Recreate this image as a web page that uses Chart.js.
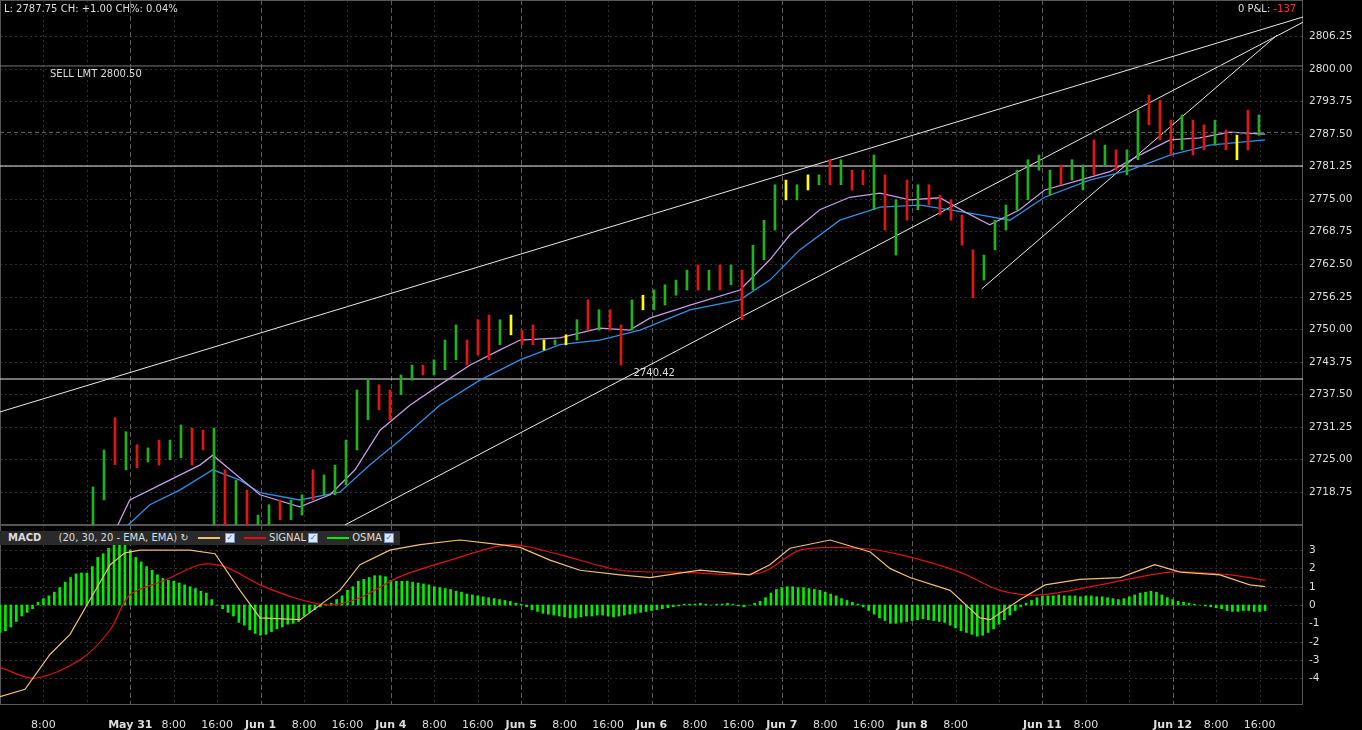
<!DOCTYPE html>
<html>
<head>
<meta charset="utf-8">
<script src="https://cdn.jsdelivr.net/npm/chart.js@4.4.0/dist/chart.umd.min.js"></script>
<style>
  body { margin: 0; background: #000; width: 1362px; height: 730px; overflow: hidden; font-family: "DejaVu Sans", sans-serif; }
  #top { position: absolute; left: 0; top: 0; width: 1362px; height: 525px; }
  #bot { position: absolute; left: 0; top: 525px; width: 1362px; height: 205px; }
  .txt { position: absolute; color: #ddd; font-size: 10px; white-space: nowrap; }
  #legend { position: absolute; left: 0; top: 531px; width: 400px; height: 14px; background: #2a2a2a; color: #ddd; font-size: 10px; line-height: 14px; }
  #legend span { display: inline-block; vertical-align: middle; }
  .sw { width: 22px; height: 2px; margin: 0 3px 0 6px; }
  .cb { width: 8px; height: 8px; background: #dfe8ff; border: 1px solid #6a8fd0; margin-left: 2px; color: #2a5fb0; font-size: 8px; line-height: 8px; text-align: center; }
</style>
</head>
<body>
<div id="top"><canvas id="priceChart" width="1362" height="525"></canvas></div>
<div id="bot"><canvas id="macdChart" width="1362" height="205"></canvas></div>
<div class="txt" style="left:4px;top:3px;">L: 2787.75 CH: +1.00 CH%: 0.04%</div>
<div class="txt" style="left:1238px;top:3px;">0 P&amp;L: <span style="color:#ff3030">-137</span></div>
<div id="legend">
  <span style="font-weight:bold;margin-left:8px;">MACD</span>
  <span style="margin-left:14px;">(20, 30, 20 - EMA, EMA) ↻</span>
  <span class="sw" style="background:#f0c070"></span><span class="cb">✓</span>
  <span class="sw" style="background:#e01010"></span><span>SIGNAL</span><span class="cb">✓</span>
  <span class="sw" style="background:#00ee00"></span><span>OSMA</span><span class="cb">✓</span>
</div>
<script>
// price bars (one every ~2 hours)
const barHigh = [2719.7,2726.8,2733.0,2730.3,2727.8,2727.2,2728.7,2728.7,2731.6,2731.0,2730.6,2731.0,2723.0,2721.0,2719.1,2714.3,2716.3,2717.2,2717.2,2718.2,
  2723.0,2722.0,2723.9,2728.7,2738.3,2740.2,2739.3,2738.3,2741.2,2743.1,2743.1,2744.1,2747.9,2750.8,2747.9,2751.8,2752.7,2751.8,2752.7,2749.8,
  2750.8,2747.9,2747.9,2748.9,2751.8,2755.6,2753.7,2753.7,2750.8,2755.6,2756.5,2757.5,2758.5,2759.4,2761.3,2762.3,2761.3,2762.3,2762.3,2761.3,
  2766.1,2770.9,2777.7,2778.6,2777.7,2779.6,2779.6,2782.5,2782.5,2780.5,2780.5,2783.4,2779.6,2774.8,2778.6,2777.7,2777.7,2775.7,2774.8,2771.9,
  2765.2,2764.2,2770.9,2773.8,2780.5,2782.5,2783.4,2780.5,2781.5,2782.5,2781.5,2786.3,2785.3,2784.4,2784.4,2792.0,2794.9,2793.9,2790.1,2791.1,
  2790.1,2789.2,2790.1,2788.2,2787.2,2792.0,2791.1];
const barLow = [2712.4,2717.2,2724.0,2723.0,2723.4,2724.5,2723.9,2724.9,2725.3,2723.9,2726.8,2712.4,2712.4,2712.4,2712.4,2712.4,2712.4,2713.4,2713.4,2714.3,
  2717.2,2718.2,2718.2,2720.1,2726.8,2732.6,2734.5,2732.6,2737.4,2740.2,2741.2,2741.2,2742.2,2744.1,2743.1,2745.0,2744.1,2747.0,2748.9,2747.0,
  2747.0,2746.0,2747.0,2747.0,2747.9,2749.8,2749.8,2749.8,2743.1,2749.8,2753.7,2753.7,2754.6,2756.5,2757.5,2757.5,2757.5,2757.5,2758.5,2751.8,
  2757.5,2763.3,2769.0,2774.8,2774.8,2776.7,2777.7,2777.7,2777.7,2776.7,2777.7,2772.9,2769.0,2764.2,2770.9,2772.9,2773.8,2771.9,2770.9,2766.1,
  2756.0,2759.4,2765.2,2769.0,2772.9,2774.8,2780.5,2775.7,2777.7,2778.6,2776.7,2779.6,2781.5,2780.5,2779.6,2782.5,2789.2,2786.3,2783.4,2784.4,
  2783.4,2784.4,2785.3,2784.4,2782.5,2784.4,2787.2];
const barDir = 'ggrgrgrggrrgrgrggrggrgggggrrggrgggrrrgyrryg' + 'ygrgrrgyggggrgrgrgggygygrgrrgrgrgrrrrrgggggggrggrgrggrrrgrrgryrg';
// moving averages [hour index, price]
const emaFastIdx = [21.7,23.9,29.5,36.8,39.2,42.4,47.9,55.2,60.8,65.4,70,75.5,81,86.6,92.1,95.8,103.1,110.5,116,119.7,127.1,136.3,141.8,145.5,151,156.5,162.1,167.6,173.1,177.7,182.3,187.8,192.4,198.9,204.4,209.9,215.5,221,226.5,233];
const emaFastVal = [2712.4,2717.2,2720.1,2723.9,2725.8,2723.0,2718.2,2715.9,2718.2,2723.0,2730.6,2735.4,2739.3,2743.1,2746.0,2747.9,2748.3,2750.2,2749.8,2752.1,2754.6,2757.5,2763.3,2768.1,2772.9,2775.3,2776.1,2774.8,2775.2,2772.5,2770.0,2772.9,2776.7,2778.6,2780.2,2783.4,2786.3,2786.7,2787.8,2787.4];
const emaSlowIdx = [23.6,27.6,33.1,39.2,44.2,47.9,55.2,62.6,68.1,73.7,81,88.4,95.8,103.1,110.5,117.9,127.1,136.3,141.8,147.3,154.7,162.1,169.4,175,180.5,186,192.4,200.7,208.1,215.5,222.8,233];
const emaSlowVal = [2712.4,2716.3,2719.1,2723.0,2721.0,2718.6,2717.2,2718.7,2723.9,2728.7,2735.4,2740.2,2744.1,2747.0,2747.9,2749.8,2753.7,2755.6,2759.4,2765.2,2770.9,2773.4,2773.8,2772.9,2771.9,2770.9,2775.3,2778.6,2780.5,2783.4,2785.3,2786.3];
// drawn lines
const trendLines = [[[0, 2734.1], [240, 2809.9]], [[63.5, 2712.4], [240, 2808.9]], [[180.8, 2757.7], [235.2, 2806.4]]];
const levelLines = [2740.42, 2781.3];
const sellLevel = 2800.50;
const lastPrice = 2787.75;
const priceTicks = [2806.25,2800.00,2793.75,2787.50,2781.25,2775.00,2768.75,2762.50,2756.25,2750.00,2743.75,2737.50,2731.25,2725.00,2718.75];
// MACD panel
const osma = [-1.5,-1.4,-1.2,-0.9,-0.6,-0.4,-0.2,0.15,0.35,0.5,0.7,0.95,1.25,1.5,1.7,1.75,1.75,2.1,2.6,2.8,
  3.1,3.3,3.4,3.3,3.0,2.6,2.35,2.1,1.9,1.65,1.45,1.35,1.3,1.2,1.1,1.0,0.9,0.75,0.65,0.3,
  0,-0.2,-0.4,-0.6,-0.95,-1.1,-1.35,-1.55,-1.65,-1.6,-1.45,-1.3,-1.2,-1.05,-1.0,-0.9,-0.6,-0.4,-0.25,-0.1,
  0.05,0.1,0.3,0.5,0.8,1.0,1.3,1.4,1.5,1.6,1.6,1.55,1.35,1.3,1.3,1.3,1.25,1.2,1.15,1.1,
  1.0,0.95,0.9,0.85,0.75,0.7,0.6,0.55,0.5,0.45,0.4,0.35,0.3,0.25,0.2,0.1,0.05,-0.1,-0.25,-0.35,
  -0.45,-0.5,-0.55,-0.6,-0.65,-0.7,-0.7,-0.65,-0.6,-0.6,-0.55,-0.55,-0.6,-0.65,-0.6,-0.55,-0.5,-0.45,-0.4,-0.35,
  -0.3,-0.25,-0.2,-0.15,-0.1,-0.05,0.05,0.05,0.05,0.1,0.05,0,0.05,0.05,0.1,0.05,-0.05,-0.1,0,0.1,
  0.2,0.4,0.65,0.85,0.95,1.0,1.0,0.95,0.95,0.9,0.85,0.8,0.7,0.6,0.5,0.35,0.25,0.15,0.05,-0.1,
  -0.3,-0.5,-0.7,-0.85,-1.0,-1.0,-0.95,-0.9,-0.85,-0.8,-0.75,-0.8,-0.85,-0.9,-0.95,-1.1,-1.25,-1.4,-1.5,-1.6,
  -1.7,-1.65,-1.5,-1.3,-1.05,-0.8,-0.55,-0.3,-0.1,0.1,0.25,0.4,0.5,0.5,0.5,0.55,0.5,0.5,0.5,0.45,
  0.5,0.5,0.45,0.45,0.4,0.35,0.3,0.35,0.45,0.55,0.65,0.7,0.75,0.7,0.55,0.4,0.3,0.2,0.15,0.1,
  0.05,0,-0.05,-0.1,-0.15,-0.2,-0.3,-0.35,-0.35,-0.3,-0.3,-0.35,-0.35,-0.3];
const macdIdx = [0,4.6,9.2,12.9,16.6,20.3,23,25.8,35,39.6,44.2,47.9,55.3,62.6,66.3,71.8,77.4,84.7,92.1,95.8,101.3,106.8,114.2,119.7,128.9,138.1,141.8,145.5,152.9,160.3,163.9,167.6,175,180.5,182.4,187.9,192.5,198.9,206.3,212.7,217.4,224.7,230.2,233];
const macdVal = [-5.0,-4.6,-2.7,-1.6,0.3,2.2,2.85,3.0,3.0,2.8,0.8,-0.7,-0.8,0.8,2.2,3.0,3.3,3.55,3.3,3.15,2.45,1.9,1.65,1.5,1.9,1.65,2.2,3.1,3.55,2.9,2.0,1.5,0.8,-0.7,-0.8,0.3,1.1,1.4,1.5,2.2,1.8,1.65,1.1,1.0];
const signalIdx = [0,6.4,14.7,20.3,23.9,30.4,36.8,41.4,47.9,55.3,60.8,66.3,73.7,82.9,93.9,103.1,114.2,125.3,140,147.4,158.4,165.8,176.8,184.2,191.6,202.6,215.5,226.6,233];
const signalVal = [-3.4,-4.0,-3.0,-1.35,0.55,1.35,2.2,2.1,1.1,0.3,0,0.4,1.55,2.45,3.3,2.75,1.9,1.8,1.75,3.0,3.1,2.75,1.8,0.8,0.55,1.1,1.8,1.65,1.35];
const macdTicks = [3,2,1,0,-1,-2,-3,-4];
const dayLabels = {24:'May 31',48:'Jun 1',72:'Jun 4',96:'Jun 5',120:'Jun 6',144:'Jun 7',168:'Jun 8',192:'Jun 11',216:'Jun 12'};
const hiddenTimeLabels = [16, 184, 208];

const FONT = 'DejaVu Sans';
const pts = (xs, ys) => xs.map((x, i) => ({x: x, y: ys[i]}));
const dirColor = {g: '#1fb21f', r: '#e41414', y: '#ffff00'};

// grid and axis labels drawn through the scales
const gridPlugin = {
  id: 'grid',
  beforeDatasetsDraw(chart, args, opts) {
    const {ctx, chartArea: a, scales: {x, y}} = chart;
    ctx.save();
    ctx.lineWidth = 1;
    ctx.font = '10.5px ' + FONT;
    ctx.textBaseline = 'middle';
    opts.yTicks.forEach(v => {
      const py = Math.round(y.getPixelForValue(v)) + 0.5;
      ctx.strokeStyle = '#2e2e2e'; ctx.setLineDash([2, 3]);
      ctx.beginPath(); ctx.moveTo(a.left, py); ctx.lineTo(a.right, py); ctx.stroke();
      ctx.fillStyle = '#ddd';
      ctx.fillText(opts.fmt(v), a.right + 6, py);
    });
    for (let h = 8; h < 240; h += 8) {
      const px = Math.round(x.getPixelForValue(h)) + 0.5;
      const day = h % 24 === 0;
      ctx.strokeStyle = day ? '#5a5a5a' : '#2e2e2e';
      ctx.setLineDash(day ? [5, 3] : [2, 3]);
      ctx.beginPath(); ctx.moveTo(px, a.top); ctx.lineTo(px, a.bottom); ctx.stroke();
    }
    ctx.setLineDash([]);
    ctx.strokeStyle = '#555';
    ctx.strokeRect(a.left + 0.5, a.top + 0.5, a.right - a.left - 1, a.bottom - a.top - 1);
    ctx.restore();
  },
  afterDatasetsDraw(chart, args, opts) {
    if (!opts.labels) return;
    const {ctx, scales: {x, y}} = chart;
    ctx.save();
    ctx.fillStyle = '#ddd';
    ctx.font = '10px ' + FONT;
    ctx.textAlign = 'center';
    ctx.fillText('2740.42', x.getPixelForValue(120.5), y.getPixelForValue(2740.42) - 3);
    ctx.textAlign = 'left';
    ctx.fillText('SELL LMT 2800.50', 50, y.getPixelForValue(sellLevel) + 11);
    ctx.restore();
  }
};

function yAxis(min, max) {
  return {
    position: 'right', min: min, max: max,
    afterFit: s => { s.width = 59; s.paddingTop = 0; s.paddingBottom = 0; },
    grid: {display: false}, border: {display: false},
    ticks: {display: false}
  };
}

const priceSets = [{
  type: 'bar',
  data: barHigh.map((h, k) => ({x: 17.13 + 2.026 * k, y: [barLow[k], h]})),
  backgroundColor: barHigh.map((h, k) => dirColor[barDir[k]]),
  barThickness: 2, grouped: false, order: 1
}, {
  type: 'line', data: pts(emaFastIdx, emaFastVal), borderColor: '#c79be8', borderWidth: 1.3, pointRadius: 0, order: 2
}, {
  type: 'line', data: pts(emaSlowIdx, emaSlowVal), borderColor: '#2f8fe6', borderWidth: 1.3, pointRadius: 0, order: 2
}];
trendLines.forEach(l => priceSets.push({type: 'line', data: l.map(p => ({x: p[0], y: p[1]})), borderColor: '#e8e8e8', borderWidth: 1, pointRadius: 0, order: 3}));
levelLines.forEach(v => priceSets.push({type: 'line', data: [{x: 0, y: v}, {x: 240, y: v}], borderColor: '#e8e8e8', borderWidth: 1, pointRadius: 0, order: 3}));
priceSets.push({type: 'line', data: [{x: 0, y: sellLevel}, {x: 240, y: sellLevel}], borderColor: '#777', borderWidth: 1, pointRadius: 0});
priceSets.push({type: 'line', data: [{x: 0, y: lastPrice}, {x: 240, y: lastPrice}], borderColor: '#666', borderDash: [4, 3], borderWidth: 1, pointRadius: 0});

new Chart(document.getElementById('priceChart'), {
  type: 'bar',
  data: {datasets: priceSets},
  options: {
    responsive: false, animation: false,
    layout: {padding: 0},
    plugins: {legend: {display: false}, tooltip: {enabled: false}, grid: {yTicks: priceTicks, labels: true, fmt: v => v.toFixed(2)}},
    scales: {
      x: {type: 'linear', min: 0, max: 240, offset: false, display: false},
      y: yAxis(2712.4, 2813.16)
    }
  },
  plugins: [gridPlugin]
});

new Chart(document.getElementById('macdChart'), {
  type: 'bar',
  data: {datasets: [{
    type: 'bar', data: osma.map((v, i) => ({x: i, y: v})), backgroundColor: '#00ee00', barThickness: 2, order: 3
  }, {
    type: 'line', data: pts(signalIdx, signalVal), borderColor: '#e01010', borderWidth: 1.2, pointRadius: 0, tension: 0.3, order: 2
  }, {
    type: 'line', data: pts(macdIdx, macdVal), borderColor: '#f0c070', borderWidth: 1.2, pointRadius: 0, order: 1
  }]},
  options: {
    responsive: false, animation: false,
    layout: {padding: 0},
    plugins: {legend: {display: false}, tooltip: {enabled: false}, grid: {yTicks: macdTicks, labels: false, fmt: v => String(v)}},
    scales: {
      x: {
        type: 'linear', min: 0, max: 240, offset: false,
        afterFit: s => { s.height = 25; s.paddingLeft = 0; s.paddingRight = 0; },
        afterBuildTicks: s => { const t = []; for (let h = 8; h < 240; h += 8) t.push({value: h}); s.ticks = t; },
        grid: {display: false}, border: {display: false},
        ticks: {
          color: '#ddd', maxRotation: 0, autoSkip: false, padding: 6,
          font: c => ({family: FONT, size: 11, weight: c.tick && c.tick.value % 24 === 0 ? 'bold' : 'normal'}),
          callback: v => hiddenTimeLabels.includes(v) ? '' : (v % 24 === 0 ? dayLabels[v] : (v % 24 === 8 ? '8:00' : '16:00'))
        }
      },
      y: yAxis(-5.46, 4.37)
    }
  },
  plugins: [gridPlugin]
});
</script>
</body>
</html>
